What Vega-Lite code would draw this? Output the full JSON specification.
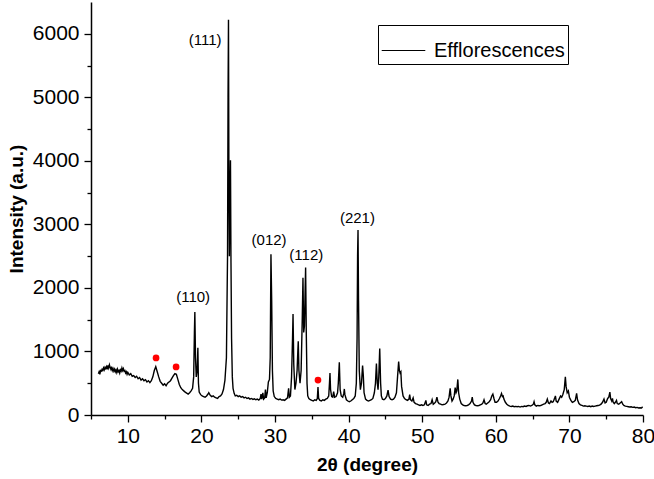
{
  "$schema": "https://vega.github.io/schema/vega-lite/v6.json",
  "width": 552,
  "height": 413,
  "autosize": "none",
  "padding": {"left": 91, "top": 2, "right": 11, "bottom": 64},
  "background": "white",
  "config": {
    "view": {"stroke": null},
    "font": "Liberation Sans",
    "axis": {
      "domainColor": "black", "domainWidth": 1.5, "tickColor": "black", "tickWidth": 1.3,
      "grid": false, "labelColor": "black", "titleColor": "black",
      "labelFont": "Liberation Sans", "titleFont": "Liberation Sans",
      "labelFontSize": 21, "titleFontSize": 19, "titleFontWeight": "bold",
      "labelOverlap": false
    }
  },
  "datasets": {
    "xrd": [
      {"t":6.0,"i":650},{"t":6.1,"i":680},{"t":6.2,"i":640},{"t":6.3,"i":700},{"t":6.4,"i":690},{"t":6.5,"i":720},{"t":6.6,"i":700},{"t":6.7,"i":740},{"t":6.8,"i":710},{"t":6.9,"i":750},
      {"t":7.0,"i":730},{"t":7.1,"i":760},{"t":7.2,"i":720},{"t":7.3,"i":780},{"t":7.4,"i":740},{"t":7.5,"i":790},{"t":7.6,"i":750},{"t":7.7,"i":720},{"t":7.8,"i":760},{"t":7.9,"i":700},
      {"t":8.0,"i":730},{"t":8.1,"i":690},{"t":8.2,"i":720},{"t":8.3,"i":680},{"t":8.4,"i":710},{"t":8.5,"i":670},{"t":8.6,"i":720},{"t":8.7,"i":680},{"t":8.8,"i":700},{"t":8.9,"i":660},
      {"t":9.0,"i":710},{"t":9.1,"i":690},{"t":9.2,"i":740},{"t":9.3,"i":700},{"t":9.4,"i":730},{"t":9.5,"i":690},{"t":9.6,"i":700},{"t":9.7,"i":660},{"t":9.8,"i":680},{"t":9.9,"i":640},
      {"t":10.0,"i":670},{"t":10.2,"i":630},{"t":10.4,"i":650},{"t":10.6,"i":610},{"t":10.8,"i":620},{"t":11.0,"i":590},{"t":11.2,"i":610},{"t":11.4,"i":570},{"t":11.6,"i":590},{"t":11.8,"i":550},
      {"t":12.0,"i":570},{"t":12.2,"i":540},{"t":12.4,"i":555},{"t":12.6,"i":520},{"t":12.8,"i":540},{"t":13.0,"i":510},{"t":13.2,"i":540},{"t":13.4,"i":600},{"t":13.6,"i":700},{"t":13.8,"i":760},
      {"t":14.0,"i":680},{"t":14.2,"i":600},{"t":14.4,"i":530},{"t":14.6,"i":500},{"t":14.8,"i":470},{"t":15.0,"i":490},{"t":15.2,"i":460},{"t":15.4,"i":500},{"t":15.6,"i":520},{"t":15.8,"i":540},
      {"t":16.0,"i":580},{"t":16.2,"i":620},{"t":16.4,"i":650},{"t":16.6,"i":640},{"t":16.8,"i":560},{"t":17.0,"i":480},{"t":17.2,"i":430},{"t":17.4,"i":400},{"t":17.6,"i":380},{"t":17.8,"i":360},
      {"t":18.0,"i":345},{"t":18.2,"i":330},{"t":18.4,"i":350},{"t":18.6,"i":380},{"t":18.8,"i":420},{"t":18.95,"i":600},{"t":19.05,"i":1300},{"t":19.11,"i":1620},{"t":19.2,"i":900},{"t":19.3,"i":600},
      {"t":19.42,"i":700},{"t":19.52,"i":1060},{"t":19.6,"i":500},{"t":19.7,"i":360},{"t":19.9,"i":320},{"t":20.1,"i":300},{"t":20.3,"i":290},{"t":20.5,"i":280},{"t":20.7,"i":300},{"t":20.9,"i":330},
      {"t":21.0,"i":350},{"t":21.2,"i":310},{"t":21.4,"i":290},{"t":21.6,"i":300},{"t":21.8,"i":280},{"t":22.0,"i":270},{"t":22.2,"i":260},{"t":22.4,"i":290},{"t":22.6,"i":300},{"t":22.8,"i":330},
      {"t":23.0,"i":400},{"t":23.2,"i":550},{"t":23.4,"i":900},{"t":23.55,"i":2500},{"t":23.62,"i":5000},{"t":23.68,"i":6220},{"t":23.74,"i":3600},{"t":23.8,"i":2500},{"t":23.88,"i":3500},{"t":23.95,"i":4010},
      {"t":24.02,"i":2400},{"t":24.1,"i":1200},{"t":24.2,"i":600},{"t":24.3,"i":420},{"t":24.45,"i":340},{"t":24.6,"i":300},{"t":24.8,"i":310},{"t":25.0,"i":290},{"t":25.2,"i":300},{"t":25.4,"i":280},
      {"t":25.6,"i":290},{"t":25.8,"i":270},{"t":26.0,"i":280},{"t":26.2,"i":260},{"t":26.4,"i":270},{"t":26.6,"i":250},{"t":26.8,"i":260},{"t":27.0,"i":245},{"t":27.2,"i":255},{"t":27.4,"i":240},
      {"t":27.6,"i":250},{"t":27.8,"i":235},{"t":28.0,"i":260},{"t":28.1,"i":330},{"t":28.2,"i":250},{"t":28.35,"i":350},{"t":28.45,"i":250},{"t":28.6,"i":270},{"t":28.7,"i":400},{"t":28.8,"i":270},
      {"t":28.95,"i":350},{"t":29.1,"i":520},{"t":29.25,"i":560},{"t":29.35,"i":900},{"t":29.45,"i":2530},{"t":29.55,"i":1800},{"t":29.65,"i":700},{"t":29.75,"i":380},{"t":29.9,"i":290},{"t":30.1,"i":260},
      {"t":30.3,"i":250},{"t":30.5,"i":240},{"t":30.7,"i":250},{"t":30.9,"i":235},{"t":31.1,"i":240},{"t":31.3,"i":230},{"t":31.5,"i":250},{"t":31.7,"i":270},{"t":31.85,"i":420},{"t":31.95,"i":280},
      {"t":32.1,"i":300},{"t":32.25,"i":600},{"t":32.38,"i":1200},{"t":32.45,"i":1590},{"t":32.55,"i":800},{"t":32.7,"i":400},{"t":32.85,"i":500},{"t":33.0,"i":700},{"t":33.1,"i":1000},{"t":33.16,"i":1160},
      {"t":33.25,"i":700},{"t":33.4,"i":500},{"t":33.55,"i":700},{"t":33.7,"i":1500},{"t":33.8,"i":2160},{"t":33.9,"i":1300},{"t":34.0,"i":1400},{"t":34.1,"i":2000},{"t":34.16,"i":2320},{"t":34.25,"i":1300},
      {"t":34.35,"i":500},{"t":34.45,"i":300},{"t":34.6,"i":260},{"t":34.8,"i":240},{"t":35.0,"i":230},{"t":35.2,"i":220},{"t":35.4,"i":240},{"t":35.6,"i":230},{"t":35.75,"i":260},{"t":35.84,"i":440},
      {"t":35.93,"i":260},{"t":36.1,"i":230},{"t":36.3,"i":220},{"t":36.5,"i":240},{"t":36.7,"i":230},{"t":36.9,"i":250},{"t":37.1,"i":260},{"t":37.3,"i":300},{"t":37.4,"i":500},{"t":37.47,"i":660},
      {"t":37.55,"i":400},{"t":37.7,"i":290},{"t":37.85,"i":280},{"t":37.97,"i":370},{"t":38.1,"i":280},{"t":38.3,"i":290},{"t":38.5,"i":350},{"t":38.6,"i":500},{"t":38.74,"i":830},{"t":38.85,"i":400},
      {"t":39.0,"i":300},{"t":39.2,"i":280},{"t":39.35,"i":340},{"t":39.42,"i":410},{"t":39.5,"i":320},{"t":39.7,"i":240},{"t":39.9,"i":220},{"t":40.1,"i":210},{"t":40.3,"i":220},{"t":40.5,"i":240},
      {"t":40.7,"i":260},{"t":40.9,"i":300},{"t":41.05,"i":500},{"t":41.15,"i":1200},{"t":41.22,"i":2500},{"t":41.28,"i":2910},{"t":41.35,"i":1800},{"t":41.45,"i":700},{"t":41.6,"i":400},{"t":41.75,"i":500},
      {"t":41.9,"i":780},{"t":42.0,"i":620},{"t":42.1,"i":350},{"t":42.3,"i":250},{"t":42.5,"i":230},{"t":42.7,"i":220},{"t":42.9,"i":230},{"t":43.1,"i":240},{"t":43.3,"i":260},{"t":43.5,"i":350},
      {"t":43.65,"i":500},{"t":43.78,"i":810},{"t":43.9,"i":500},{"t":44.0,"i":400},{"t":44.1,"i":600},{"t":44.23,"i":1045},{"t":44.35,"i":500},{"t":44.45,"i":300},{"t":44.6,"i":250},{"t":44.8,"i":240},
      {"t":45.0,"i":260},{"t":45.2,"i":300},{"t":45.36,"i":390},{"t":45.5,"i":290},{"t":45.7,"i":250},{"t":45.9,"i":240},{"t":46.1,"i":250},{"t":46.3,"i":280},{"t":46.5,"i":350},{"t":46.65,"i":600},
      {"t":46.8,"i":840},{"t":46.9,"i":700},{"t":47.0,"i":660},{"t":47.1,"i":680},{"t":47.2,"i":450},{"t":47.4,"i":300},{"t":47.6,"i":260},{"t":47.8,"i":240},{"t":48.0,"i":230},{"t":48.2,"i":250},
      {"t":48.3,"i":320},{"t":48.4,"i":240},{"t":48.6,"i":220},{"t":48.77,"i":270},{"t":48.9,"i":200},{"t":49.1,"i":180},{"t":49.3,"i":170},{"t":49.5,"i":160},{"t":49.7,"i":150},{"t":49.9,"i":160},
      {"t":50.1,"i":150},{"t":50.3,"i":160},{"t":50.5,"i":230},{"t":50.6,"i":160},{"t":50.8,"i":150},{"t":51.0,"i":170},{"t":51.2,"i":180},{"t":51.35,"i":240},{"t":51.5,"i":170},{"t":51.7,"i":190},
      {"t":51.85,"i":210},{"t":52.0,"i":280},{"t":52.15,"i":200},{"t":52.3,"i":180},{"t":52.5,"i":170},{"t":52.7,"i":160},{"t":52.9,"i":165},{"t":53.1,"i":170},{"t":53.3,"i":190},{"t":53.5,"i":220},
      {"t":53.65,"i":280},{"t":53.8,"i":420},{"t":53.9,"i":300},{"t":54.05,"i":220},{"t":54.2,"i":250},{"t":54.35,"i":300},{"t":54.48,"i":430},{"t":54.6,"i":350},{"t":54.7,"i":380},{"t":54.84,"i":560},
      {"t":54.95,"i":350},{"t":55.1,"i":250},{"t":55.3,"i":180},{"t":55.5,"i":160},{"t":55.7,"i":150},{"t":55.9,"i":145},{"t":56.1,"i":150},{"t":56.3,"i":160},{"t":56.5,"i":180},{"t":56.7,"i":220},
      {"t":56.8,"i":280},{"t":56.9,"i":200},{"t":57.1,"i":160},{"t":57.3,"i":150},{"t":57.5,"i":145},{"t":57.7,"i":150},{"t":57.9,"i":160},{"t":58.1,"i":170},{"t":58.25,"i":190},{"t":58.4,"i":240},
      {"t":58.55,"i":180},{"t":58.7,"i":170},{"t":58.9,"i":190},{"t":59.1,"i":210},{"t":59.3,"i":240},{"t":59.45,"i":300},{"t":59.6,"i":330},{"t":59.75,"i":260},{"t":59.9,"i":200},{"t":60.1,"i":200},
      {"t":60.3,"i":220},{"t":60.5,"i":260},{"t":60.65,"i":300},{"t":60.78,"i":340},{"t":60.9,"i":290},{"t":61.0,"i":300},{"t":61.1,"i":250},{"t":61.3,"i":200},{"t":61.5,"i":170},{"t":61.7,"i":150},
      {"t":61.9,"i":140},{"t":62.1,"i":135},{"t":62.3,"i":140},{"t":62.5,"i":130},{"t":62.7,"i":135},{"t":62.9,"i":130},{"t":63.1,"i":135},{"t":63.3,"i":125},{"t":63.5,"i":135},{"t":63.7,"i":130},
      {"t":63.9,"i":140},{"t":64.1,"i":135},{"t":64.3,"i":145},{"t":64.5,"i":150},{"t":64.7,"i":140},{"t":64.9,"i":150},{"t":65.1,"i":170},{"t":65.2,"i":210},{"t":65.3,"i":160},{"t":65.5,"i":140},
      {"t":65.7,"i":150},{"t":65.9,"i":145},{"t":66.1,"i":150},{"t":66.3,"i":160},{"t":66.5,"i":170},{"t":66.7,"i":180},{"t":66.85,"i":200},{"t":67.0,"i":250},{"t":67.15,"i":190},{"t":67.3,"i":180},
      {"t":67.5,"i":220},{"t":67.65,"i":200},{"t":67.8,"i":210},{"t":67.95,"i":250},{"t":68.1,"i":300},{"t":68.2,"i":220},{"t":68.4,"i":200},{"t":68.6,"i":250},{"t":68.8,"i":300},{"t":68.95,"i":280},
      {"t":69.1,"i":320},{"t":69.3,"i":400},{"t":69.45,"i":600},{"t":69.55,"i":450},{"t":69.7,"i":350},{"t":69.86,"i":380},{"t":70.0,"i":280},{"t":70.2,"i":230},{"t":70.4,"i":200},{"t":70.6,"i":210},
      {"t":70.8,"i":230},{"t":70.98,"i":340},{"t":71.1,"i":240},{"t":71.3,"i":180},{"t":71.5,"i":160},{"t":71.7,"i":150},{"t":71.9,"i":140},{"t":72.1,"i":145},{"t":72.3,"i":140},{"t":72.5,"i":135},
      {"t":72.7,"i":140},{"t":72.9,"i":130},{"t":73.1,"i":140},{"t":73.3,"i":135},{"t":73.5,"i":140},{"t":73.7,"i":145},{"t":73.9,"i":150},{"t":74.1,"i":155},{"t":74.3,"i":170},{"t":74.5,"i":200},
      {"t":74.7,"i":250},{"t":74.85,"i":190},{"t":75.0,"i":200},{"t":75.2,"i":260},{"t":75.35,"i":280},{"t":75.5,"i":360},{"t":75.6,"i":260},{"t":75.75,"i":220},{"t":75.85,"i":260},{"t":75.95,"i":200},
      {"t":76.1,"i":180},{"t":76.25,"i":200},{"t":76.4,"i":230},{"t":76.5,"i":180},{"t":76.7,"i":170},{"t":76.9,"i":190},{"t":77.1,"i":210},{"t":77.25,"i":170},{"t":77.4,"i":150},{"t":77.6,"i":140},
      {"t":77.8,"i":135},{"t":78.0,"i":130},{"t":78.2,"i":125},{"t":78.4,"i":130},{"t":78.6,"i":120},{"t":78.8,"i":125},{"t":79.0,"i":115},{"t":79.2,"i":120},{"t":79.4,"i":110},{"t":79.6,"i":115},
      {"t":79.8,"i":110},{"t":79.95,"i":130}
    ],
    "dots": [
      {"t":13.84,"i":898},{"t":16.56,"i":757},{"t":35.84,"i":549}
    ],
    "labels": [
      {"t":20.5,"i":5900,"label":"(111)"},
      {"t":18.88,"i":1850,"label":"(110)"},
      {"t":29.2,"i":2760,"label":"(012)"},
      {"t":34.25,"i":2520,"label":"(112)"},
      {"t":41.2,"i":3100,"label":"(221)"}
    ]
  },
  "layer": [
    {
      "data": {"name": "xrd"},
      "transform": [{"calculate": "'Efflorescences'", "as": "series"}],
      "mark": {"type": "line", "strokeWidth": 1.4, "interpolate": "linear"},
      "encoding": {
        "x": {
          "field": "t", "type": "quantitative",
          "scale": {"domain": [5, 80], "nice": false, "zero": false},
          "axis": {
            "title": "2θ (degree)",
            "values": [5,10,15,20,25,30,35,40,45,50,55,60,65,70,75,80],
            "tickCount": 100,
            "labelExpr": "datum.value % 10 === 0 ? datum.label : ''",
            "tickSize": {"expr": "datum.value % 10 === 0 ? 7 : 4"},
            "labelPadding": 3,
            "titlePadding": 9,
            "labelFlush": false,
            "labelOverlap": false
          }
        },
        "y": {
          "field": "i", "type": "quantitative",
          "scale": {"domain": [0, 6500], "nice": false},
          "axis": {
            "title": "Intensity (a.u.)",
            "values": [0,500,1000,1500,2000,2500,3000,3500,4000,4500,5000,5500,6000],
            "tickCount": 100,
            "labelExpr": "datum.value % 1000 === 0 ? datum.label : ''",
            "format": "d",
            "tickSize": {"expr": "datum.value % 1000 === 0 ? 7 : 4"},
            "labelPadding": 5,
            "titlePadding": 6,
            "labelFlush": false,
            "labelOverlap": false
          }
        },
        "color": {
          "field": "series", "type": "nominal",
          "scale": {"range": ["black"]},
          "legend": {
            "title": null,
            "orient": "none",
            "legendX": 287,
            "legendY": 23,
            "symbolType": "stroke",
            "symbolSize": 1900,
            "symbolStrokeWidth": 1.2,
            "labelFontSize": 20,
            "labelFont": "Liberation Sans",
            "labelColor": "black",
            "strokeColor": "black",
            "padding": 3,
            "labelOffset": 8,
            "fillColor": "white"
          }
        }
      }
    },
    {
      "data": {"name": "dots"},
      "mark": {"type": "point", "filled": true, "color": "#ff0000", "opacity": 1, "size": 45},
      "encoding": {
        "x": {"field": "t", "type": "quantitative"},
        "y": {"field": "i", "type": "quantitative"}
      }
    },
    {
      "data": {"name": "labels"},
      "mark": {"type": "text", "fontSize": 15, "font": "Liberation Sans", "color": "black", "baseline": "middle", "align": "center"},
      "encoding": {
        "x": {"field": "t", "type": "quantitative"},
        "y": {"field": "i", "type": "quantitative"},
        "text": {"field": "label"}
      }
    }
  ]
}
